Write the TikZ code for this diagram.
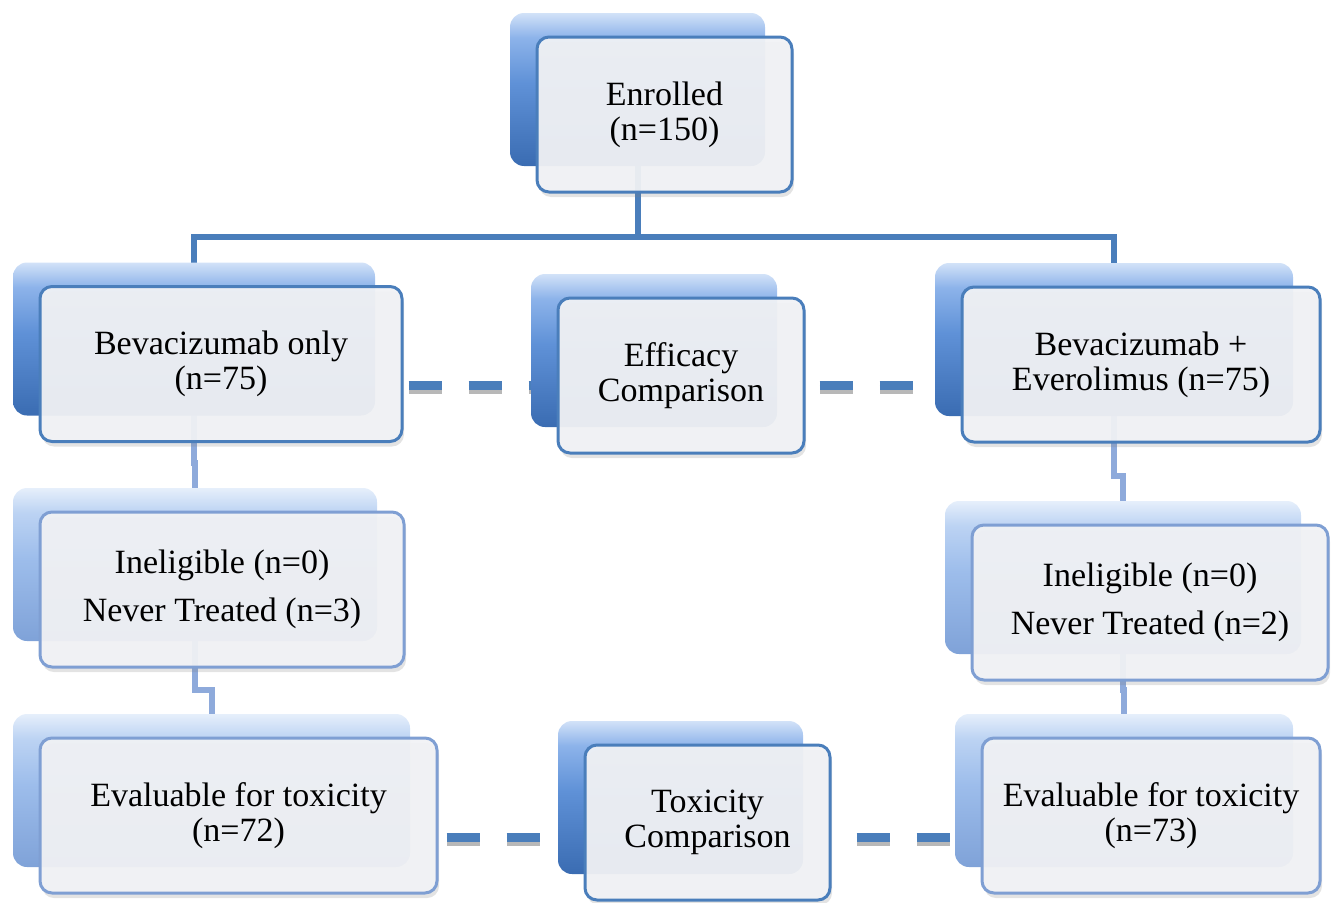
\documentclass[tikz,border=0pt]{standalone}
\usepackage{fontspec}
\setmainfont{Liberation Serif}
\usetikzlibrary{positioning, shadows, backgrounds}

\definecolor{darkedge}{HTML}{4A7EBB}
\definecolor{darktop}{HTML}{D2E2F8}
\definecolor{darkhi}{HTML}{8DB3EA}
\definecolor{darkmid}{HTML}{5F91D7}
\definecolor{darkbot}{HTML}{3A6CB2}
\definecolor{lightedge}{HTML}{7F9FD3}
\definecolor{lighttop}{HTML}{E6EFFB}
\definecolor{lighthi}{HTML}{BCD3F3}
\definecolor{lightmid}{HTML}{9DBDEB}
\definecolor{lightbot}{HTML}{7FA2D8}
\definecolor{boxfill}{HTML}{F1F2F5}
\definecolor{tierblue}{HTML}{8EAADB}

% Glossy fills for the back boxes
\pgfdeclareverticalshading{darkgloss}{100bp}{color(0bp)=(darkbot); color(25bp)=(darkbot);
  color(52bp)=(darkmid); color(67bp)=(darkhi); color(75bp)=(darktop); color(100bp)=(darktop)}
\pgfdeclareverticalshading{lightgloss}{100bp}{color(0bp)=(lightbot); color(25bp)=(lightbot);
  color(52bp)=(lightmid); color(67bp)=(lighthi); color(75bp)=(lighttop); color(100bp)=(lighttop)}

\begin{document}
\begin{tikzpicture}[x=1pt, y=-1pt, font=\fontsize{34}{35}\selectfont]
  \useasboundingbox (0,0) rectangle (1337,902);

  % Set the box and line styles
  \tikzset{
    backbox/.style={rounded corners=14pt, minimum height=153pt, inner sep=0pt},
    frontbox/.style={rounded corners=12pt, line width=3pt, fill=boxfill,
      fill opacity=0.94, text opacity=1, minimum height=155pt, inner sep=0pt,
      align=center, drop shadow={shadow xshift=2pt, shadow yshift=-5pt, opacity=0.22}},
    treeline/.style={line width=6pt, draw=darkedge},
    tierline/.style={line width=6pt, draw=tierblue},
    dashlink/.style={line width=9pt, draw=darkedge, dash pattern=on 33pt off 27pt,
      shorten <=5pt, preaction={draw=black!28, line width=9pt,
      dash pattern=on 33pt off 27pt, transform canvas={yshift=-4pt}}}
  }

  % Draw the stacked boxes
  \foreach \name/\cx/\cy/\boxw/\tier/\txt in {
    enr/664.5/114.5/255/dark/{Enrolled\\(n=150)},
    bevl/221/364/362/dark/{Bevacizumab only\\(n=75)},
    eff/681/375.5/246/dark/{Efficacy\\Comparison},
    bevr/1141/364.5/358/dark/{Bevacizumab +\\Everolimus (n=75)},
    inel/222/589.5/364/light/{Ineligible (n=0)\\[13pt]Never Treated (n=3)},
    iner/1150/602.5/356/light/{Ineligible (n=0)\\[13pt]Never Treated (n=2)},
    evall/238.5/815.5/397/light/{Evaluable for toxicity\\(n=72)},
    tox/707.5/822.5/245/dark/{Toxicity\\Comparison},
    evalr/1151/815.5/338/light/{Evaluable for toxicity\\(n=73)}}{
    \node[backbox, minimum width=\boxw pt, shading=\tier gloss] (\name-b) at (\cx-27,\cy-25) {};
    \node[frontbox, draw=\tier edge, minimum width=\boxw pt] (\name) at (\cx,\cy) {\txt};
  }

  % Connect the boxes
  \begin{scope}[on background layer]
    \coordinate (bus) at (637.5,237);
    \coordinate (effrow) at (0,385);
    \coordinate (toxrow) at (0,837);
    \draw[treeline] (enr-b.center) -- (bus);
    \draw[treeline] (bevl-b.center) |- (bus) -| (bevr-b.center);
    \draw[tierline] (bevl-b.center) |- ([yshift=25pt]inel-b.north) -- (inel-b.center);
    \draw[tierline] (inel-b.center) |- ([yshift=24pt]evall-b.north) -- (evall-b.center);
    \draw[tierline] (bevr-b.center) |- ([yshift=25pt]iner-b.north) -- (iner-b.center);
    \draw[tierline] (iner-b.center) |- ([yshift=24pt]evalr-b.north) -- (evalr-b.center);
    \draw[dashlink] (bevl.east |- effrow) -- (eff-b.west |- effrow);
    \draw[dashlink, shorten <=14pt] (eff.east |- effrow) -- (bevr-b.west |- effrow);
    \draw[dashlink, shorten <=8pt] (evall.east |- toxrow) -- (tox-b.west |- toxrow);
    \draw[dashlink, shorten <=25pt] (tox.east |- toxrow) -- (evalr-b.west |- toxrow);
  \end{scope}
\end{tikzpicture}
\end{document}
